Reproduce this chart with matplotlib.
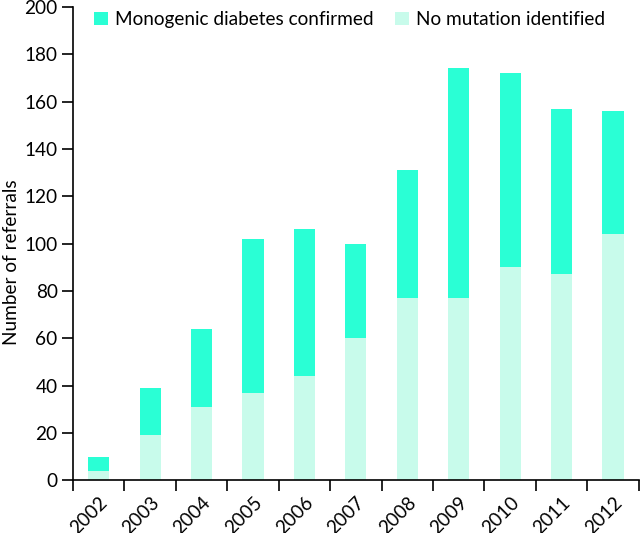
import numpy as np
from matplotlib import pyplot as plt

# referrals per year
years = ['2002', '2003', '2004', '2005', '2006', '2007', '2008', '2009', '2010', '2011', '2012']
no_mutation = [4, 19, 31, 37, 44, 60, 77, 77, 90, 87, 104]
total = [10, 39, 64, 102, 106, 100, 131, 174, 172, 157, 156]
confirmed = [t - n for t, n in zip(total, no_mutation)]

dark = '#2affd5'
light = '#c8fbeb'
fs = 13.7

plt.rcParams['font.family'] = ['Lato', 'DejaVu Sans']

fig = plt.figure(figsize=(6.4, 5.33), dpi=100)
ax = fig.add_axes([0.114, 0.099, 0.884, 0.888])

x = np.arange(len(years))
ax.bar(x, confirmed, bottom=no_mutation, width=0.41, color=dark, label='Monogenic diabetes confirmed')
ax.bar(x, no_mutation, width=0.41, color=light, label='No mutation identified')

ax.set_xlim(-0.5, len(years) - 0.5)
ax.set_ylim(0, 200)
ax.set_yticks(range(0, 201, 20))
ax.set_xticks(x)
ax.set_xticklabels(years, rotation=45, ha='right', rotation_mode='anchor')
ax.set_xticks(np.arange(-0.5, len(years)), minor=True)
ax.tick_params(axis='x', which='major', length=0, pad=10, labelsize=fs)
ax.tick_params(axis='x', which='minor', length=8, width=1.2, direction='out')
ax.tick_params(axis='y', length=8, width=1.2, direction='out', labelsize=fs, pad=3)
ax.set_ylabel('Number of referrals', fontsize=fs)
ax.yaxis.set_label_coords(-0.094, 0.46)

for side in ['top', 'right']:
    ax.spines[side].set_visible(False)
for side in ['left', 'bottom']:
    ax.spines[side].set_linewidth(1.2)

ax.legend(ncol=2, frameon=False, loc='upper left',
          bbox_to_anchor=(94 / 640, 1 - 11 / 533), bbox_transform=fig.transFigure,
          borderpad=0, borderaxespad=0,
          fontsize=fs, handlelength=0.72, handleheight=0.72, handletextpad=0.37,
          columnspacing=1.15)

plt.savefig('out.png', dpi=100)
